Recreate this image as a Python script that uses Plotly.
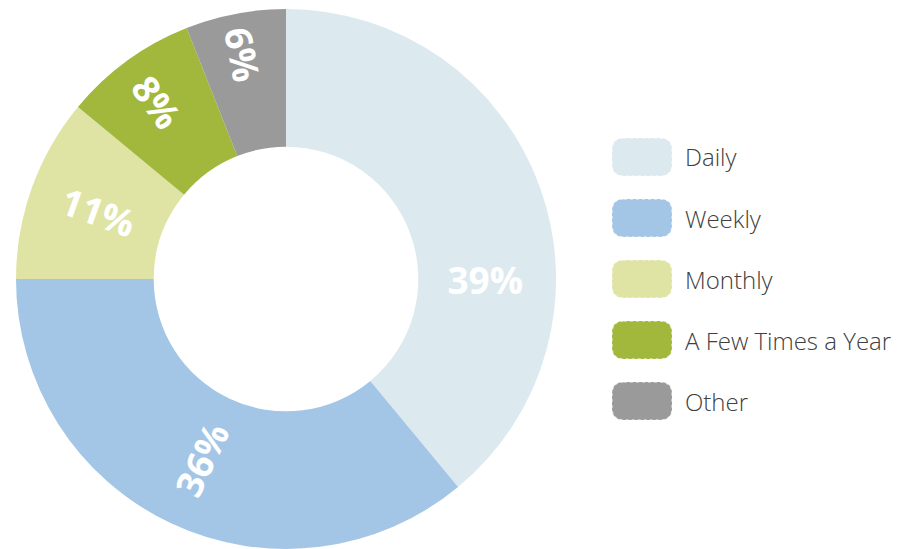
import plotly.graph_objects as go

categories = ["Daily", "Weekly", "Monthly", "A Few Times a Year", "Other"]
values = [39, 36, 11, 8, 6]
colors = ["#dce9ef", "#a4c6e6", "#dfe4a5", "#a2b83c", "#9a9a9a"]

W, H = 899, 549
OFF = 8  # page body margin offset in the screenshot

def px(x):
    return (x - OFF) / W

def py(y):
    return 1 - (y - OFF) / H

fig = go.Figure()
fig.add_trace(go.Pie(
    labels=categories,
    values=values,
    sort=False,
    direction="clockwise",
    rotation=0,
    hole=0.49,
    marker=dict(colors=colors, line=dict(width=0)),
    texttemplate="%{value}%",
    textposition="inside",
    insidetextorientation="radial",
    textfont=dict(family="Open Sans", size=37, color="white", weight="bold"),
    showlegend=False,
    domain=dict(x=[px(16), px(556)], y=[py(549), py(9)]),
))

# custom legend with rounded swatches
shapes = []
annotations = []
x0p, x1p = 612, 672
hh = 19
r = 12
for i, (cat, col) in enumerate(zip(categories, colors)):
    cy = 157 + i * 61
    y0p, y1p = cy - hh, cy + hh
    path = (
        f"M {px(x0p + r)},{py(y0p)} L {px(x1p - r)},{py(y0p)} "
        f"Q {px(x1p)},{py(y0p)} {px(x1p)},{py(y0p + r)} "
        f"L {px(x1p)},{py(y1p - r)} "
        f"Q {px(x1p)},{py(y1p)} {px(x1p - r)},{py(y1p)} "
        f"L {px(x0p + r)},{py(y1p)} "
        f"Q {px(x0p)},{py(y1p)} {px(x0p)},{py(y1p - r)} "
        f"L {px(x0p)},{py(y0p + r)} "
        f"Q {px(x0p)},{py(y0p)} {px(x0p + r)},{py(y0p)} Z"
    )
    shapes.append(dict(type="path", xref="paper", yref="paper", path=path,
                       fillcolor=col, line=dict(color="rgba(255,255,255,0.6)", width=1.5, dash="dot")))
    annotations.append(dict(x=px(683), y=py(cy), xref="paper", yref="paper",
                            text=cat, showarrow=False, xanchor="left", yanchor="middle",
                            font=dict(family="Open Sans", size=24, color="#404040", weight=300)))

fig.update_layout(
    width=W, height=H,
    margin=dict(l=0, r=0, t=0, b=0),
    paper_bgcolor="white",
    plot_bgcolor="white",
    shapes=shapes,
    annotations=annotations,
)

fig.write_html("out.html")
